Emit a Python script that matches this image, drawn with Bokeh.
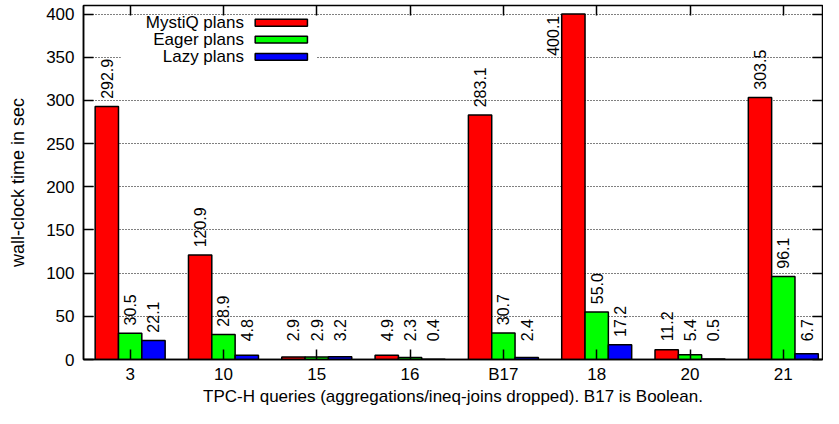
import math
from bokeh.plotting import figure
from bokeh.models import Range1d, FixedTicker, LinearAxis, ColumnDataSource
from bokeh.core.properties import value
from bokeh.embed import file_html
from bokeh.resources import INLINE

# ---- data ----
queries = ["3", "10", "15", "16", "B17", "18", "20", "21"]
mystiq = [292.9, 120.9, 2.9, 4.9, 283.1, 400.1, 11.2, 303.5]
eager = [30.5, 28.9, 2.9, 2.3, 30.7, 55.0, 5.4, 96.1]
lazy = [22.1, 4.8, 3.2, 0.4, 2.4, 17.2, 0.5, 6.7]
series_names = ["MystiQ plans", "Eager plans", "Lazy plans"]
series_colors = ["#ff0000", "#00ff00", "#0000ff"]
y_ticks = [0, 50, 100, 150, 200, 250, 300, 350, 400]

FONT = value("Liberation Sans")
FS_VAL = "16px"
FS_TXT = "17px"
Y_END = 410
BW = 0.25

p = figure(width=823, height=408, x_range=Range1d(-0.5, 7.42), y_range=Range1d(0, Y_END),
           output_backend="svg", toolbar_location=None,
           min_border_left=83, min_border_right=1, min_border_top=5, min_border_bottom=46)
p.background_fill_color = "white"
p.border_fill_color = "white"
p.outline_line_color = "black"
p.outline_line_width = 1.5

idx = list(range(len(queries)))

# grid
p.xgrid.grid_line_color = None
p.ygrid.ticker = FixedTicker(ticks=y_ticks)
p.ygrid.grid_line_color = "black"
p.ygrid.grid_line_dash = "1 2"
p.ygrid.grid_line_width = 1

# axes
xa = p.xaxis[0]
xa.ticker = FixedTicker(ticks=idx)
xa.major_label_overrides = {i: q for i, q in zip(idx, queries)}
xa.minor_tick_line_color = None
xa.major_tick_in = 10
xa.major_tick_out = 0
xa.major_tick_line_width = 1.5
xa.axis_line_width = 1.5
xa.major_label_standoff = 5
xa.axis_label = "TPC-H queries (aggregations/ineq-joins dropped). B17 is Boolean."
xa.axis_label_standoff = 0

ya = p.yaxis[0]
ya.ticker = FixedTicker(ticks=y_ticks)
ya.minor_tick_line_color = None
ya.major_tick_in = 10
ya.major_tick_out = 0
ya.major_tick_line_width = 1.5
ya.axis_line_width = 1.5
ya.major_label_standoff = 9
ya.axis_label = "wall-clock time in sec"
ya.axis_label_standoff = 15

for ax in (xa, ya):
    ax.major_label_text_font = "Liberation Sans"
    ax.major_label_text_font_size = FS_TXT
    ax.major_label_text_color = "black"
    ax.axis_label_text_font = "Liberation Sans"
    ax.axis_label_text_font_style = "normal"
    ax.axis_label_text_color = "black"
xa.axis_label_text_font_size = "17px"
ya.axis_label_text_font_size = "18px"

ra = LinearAxis(ticker=FixedTicker(ticks=y_ticks), major_tick_in=10, major_tick_out=0,
                major_tick_line_width=1.5, minor_tick_line_color=None, axis_line_color=None,
                major_label_overrides={t: "" for t in y_ticks}, major_label_standoff=0)
p.add_layout(ra, "right")
ta = LinearAxis(ticker=FixedTicker(ticks=idx), major_tick_in=10, major_tick_out=0,
                major_tick_line_width=1.5, minor_tick_line_color=None, axis_line_color=None,
                major_label_overrides={i: "" for i in idx}, major_label_standoff=0)
p.add_layout(ta, "above")

# bars + value labels
offsets = [-BW, 0.0, BW]
norm = dict(x=[], y=[], t=[])
over = dict(x=[], y=[], t=[])
for vals, off, col in zip([mystiq, eager, lazy], offsets, series_colors):
    xs = [i + off for i in idx]
    p.vbar(x=xs, top=vals, width=BW, bottom=0, fill_color=col, line_color="black", line_width=1.5)
    for xv, v in zip(xs, vals):
        txt = "%.1f" % v
        base = max(v, 12) + 9
        if base + 50 > Y_END:
            over["x"].append(xv - 0.22)
            over["y"].append(v - 2)
            over["t"].append(txt)
        else:
            norm["x"].append(xv)
            norm["y"].append(base)
            norm["t"].append(txt)

p.text(x="x", y="y", text="t", source=ColumnDataSource(norm), angle=math.pi / 2,
       text_align="left", text_baseline="middle", text_font=FONT, text_font_size=FS_VAL,
       text_color="black")
p.text(x="x", y="y", text="t", source=ColumnDataSource(over), angle=math.pi / 2,
       text_align="right", text_baseline="middle", text_font=FONT, text_font_size=FS_VAL,
       text_color="black")

# legend (label then colour box, gnuplot style)
leg_rows = [390, 370.5, 350.5]
p.quad(left=[-0.1], right=[2.0], bottom=[342], top=[398], fill_color="white", line_color=None)
p.text(x=[1.22] * 3, y=leg_rows, text=series_names, text_align="right", text_baseline="middle",
       text_font=FONT, text_font_size=FS_TXT, text_color="black")
p.rect(x=[1.62] * 3, y=leg_rows, width=0.56, height=8, fill_color=series_colors,
       line_color="black", line_width=1.5)

open("out.html", "w").write(file_html(p, INLINE))
